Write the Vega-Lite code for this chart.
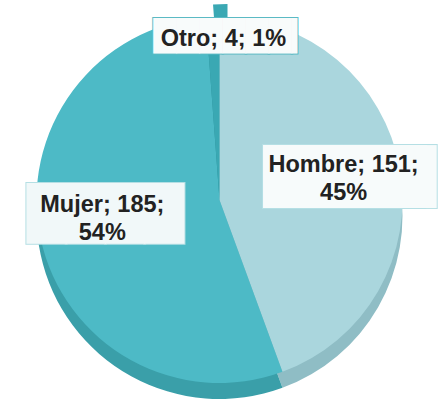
{
  "$schema": "https://vega.github.io/schema/vega-lite/v6.json",
  "width": 439,
  "height": 400,
  "autosize": {"type": "none"},
  "padding": 0,
  "background": "white",
  "view": {"stroke": null},
  "data": {
    "values": [
      {"cat": "Hombre", "n": 151, "label": "Hombre; 151;\n45%"},
      {"cat": "Mujer", "n": 185, "label": "Mujer; 185;\n54%"},
      {"cat": "Otro", "n": 4, "label": "Otro; 4; 1%"}
    ]
  },
  "encoding": {
    "theta": {"field": "n", "type": "quantitative", "stack": true},
    "order": {"field": "cat", "type": "nominal", "sort": "ascending"}
  },
  "layer": [
    {
      "mark": {"type": "arc", "outerRadius": 183, "yOffset": 16},
      "encoding": {
        "fill": {"field": "cat", "type": "nominal", "legend": null,
          "scale": {"domain": ["Hombre", "Mujer", "Otro"], "range": ["#8fbdc5", "#3a9fa9", "#2f8f99"]}}
      }
    },
    {
      "mark": {"type": "arc", "outerRadius": 183},
      "encoding": {
        "color": {"field": "cat", "type": "nominal", "legend": null,
          "scale": {"domain": ["Hombre", "Mujer", "Otro"], "range": ["#aad6dd", "#4dbac6", "#3aa8b3"]}}
      }
    },
    {
      "mark": {"type": "arc", "outerRadius": 196, "innerRadius": 150, "xOffset": 8, "color": "#3aa8b3"},
      "encoding": {"opacity": {"condition": {"test": "datum.cat === 'Otro'", "value": 1}, "value": 0}}
    },
    {
      "mark": {"type": "text", "radius": 125, "dx": 23, "dy": 1, "font": "DejaVu Sans", "fontSize": 53, "align": "center", "baseline": "middle", "color": "#b5dfe4", "stroke": "#b5dfe4", "strokeWidth": 2},
      "encoding": {"text": {"condition": {"test": "datum.cat === 'Hombre'", "value": "████▎"}, "value": ""}}
    },
    {
      "mark": {"type": "text", "radius": 125, "dx": 23, "dy": 1, "font": "DejaVu Sans", "fontSize": 53, "align": "center", "baseline": "middle", "color": "#f7fbfb"},
      "encoding": {"text": {"condition": {"test": "datum.cat === 'Hombre'", "value": "████▎"}, "value": ""}}
    },
    {
      "mark": {"type": "text", "radius": 125, "dx": 1, "dy": -13.5, "font": "Liberation Sans", "fontWeight": "bold", "fontSize": 23.5, "lineHeight": 28, "lineBreak": "\n", "align": "center", "baseline": "middle", "color": "#222222"},
      "encoding": {"text": {"condition": {"test": "datum.cat === 'Hombre'", "field": "label"}, "value": ""}}
    },
    {
      "mark": {"type": "text", "radius": 125, "dx": 8, "dy": -10, "font": "DejaVu Sans", "fontSize": 51, "align": "center", "baseline": "middle", "color": "#b5dfe4", "stroke": "#b5dfe4", "strokeWidth": 2},
      "encoding": {"text": {"condition": {"test": "datum.cat === 'Mujer'", "value": "████"}, "value": ""}}
    },
    {
      "mark": {"type": "text", "radius": 125, "dx": 8, "dy": -10, "font": "DejaVu Sans", "fontSize": 51, "align": "center", "baseline": "middle", "color": "#f1f8f9"},
      "encoding": {"text": {"condition": {"test": "datum.cat === 'Mujer'", "value": "████"}, "value": ""}}
    },
    {
      "mark": {"type": "text", "radius": 125, "dx": 5, "dy": -21.5, "font": "Liberation Sans", "fontWeight": "bold", "fontSize": 23.5, "lineHeight": 28, "lineBreak": "\n", "align": "center", "baseline": "middle", "color": "#222222"},
      "encoding": {"text": {"condition": {"test": "datum.cat === 'Mujer'", "field": "label"}, "value": ""}}
    },
    {
      "mark": {"type": "text", "radius": 164, "dx": 20.5, "dy": 0.5, "font": "DejaVu Sans", "fontSize": 30, "align": "center", "baseline": "middle", "color": "#5bbac4", "stroke": "#5bbac4", "strokeWidth": 2},
      "encoding": {"text": {"condition": {"test": "datum.cat === 'Otro'", "value": "██████▎"}, "value": ""}}
    },
    {
      "mark": {"type": "text", "radius": 164, "dx": 20.5, "dy": 0.5, "font": "DejaVu Sans", "fontSize": 30, "align": "center", "baseline": "middle", "color": "#f8fbfb"},
      "encoding": {"text": {"condition": {"test": "datum.cat === 'Otro'", "value": "██████▎"}, "value": ""}}
    },
    {
      "mark": {"type": "text", "radius": 164, "dx": 10, "dy": 2.7, "font": "Liberation Sans", "fontWeight": "bold", "fontSize": 23.5, "align": "center", "baseline": "middle", "color": "#222222"},
      "encoding": {"text": {"condition": {"test": "datum.cat === 'Otro'", "field": "label"}, "value": ""}}
    }
  ]
}
